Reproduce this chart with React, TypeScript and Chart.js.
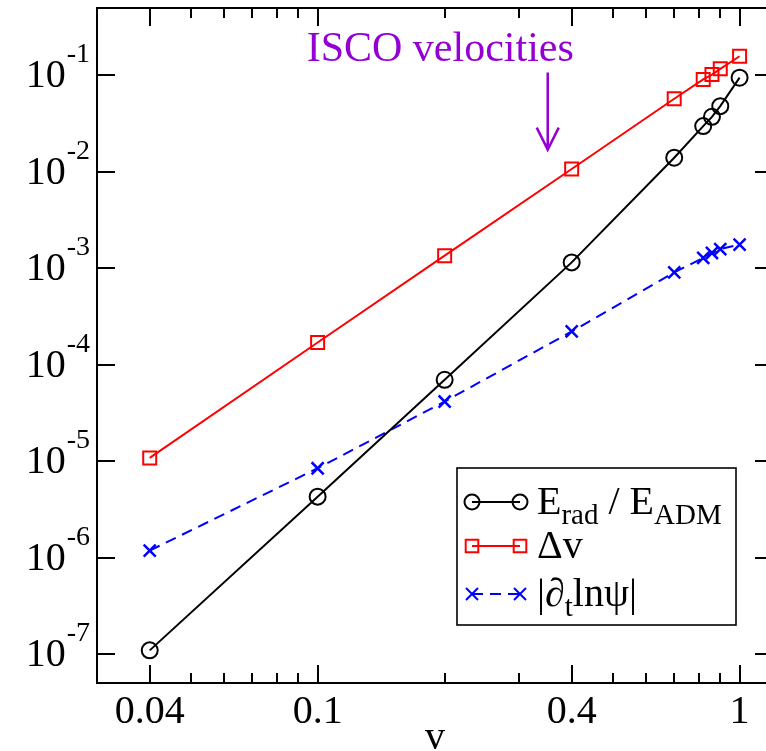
import React, { useEffect, useRef } from 'react';
import { Chart, registerables } from 'chart.js';

Chart.register(...registerables);

// ---------- data ----------
const velocities = [0.04, 0.1, 0.2, 0.4, 0.7, 0.82, 0.86, 0.9, 1.0];
const eRadOverEAdm = [1.09e-7, 4.28e-6, 6.97e-5, 1.15e-3, 1.40e-2, 2.98e-2, 3.72e-2, 4.80e-2, 9.47e-2];
const deltaV = [1.08e-5, 1.70e-4, 1.35e-3, 1.07e-2, 5.73e-2, 9.09e-2, 1.02e-1, 1.17e-1, 1.58e-1];
const dtLnPsi = [1.18e-6, 8.43e-6, 4.15e-5, 2.21e-4, 9.08e-4, 1.28e-3, 1.44e-3, 1.58e-3, 1.76e-3];

const xMajorTicks = [0.04, 0.1, 0.4, 1];
const xMajorLabels = ['0.04', '0.1', '0.4', '1'];
const xMinorTicks = [0.05, 0.06, 0.07, 0.08, 0.09, 0.2, 0.3, 0.5, 0.6, 0.7, 0.8, 0.9];
const yDecadeExponents = [-7, -6, -5, -4, -3, -2, -1];

const xAxisTitle = 'v';
const annotationText = 'ISCO velocities';
const annotationTextPos = [0.0942, 0.141];
const arrowX = 0.351;
const arrowTopVal = 0.107;
const arrowBottomVal = 0.017;

const SERIF = '"Liberation Serif", "Times New Roman", "DejaVu Serif", serif';
const PURPLE = '#9400D3';

type Part = { t: string; s: number; dy?: number };

function drawRich(ctx: CanvasRenderingContext2D, parts: Part[], x: number, y: number) {
  let cx = x;
  ctx.textAlign = 'left';
  ctx.textBaseline = 'alphabetic';
  for (const p of parts) {
    ctx.font = `${p.s}px ${SERIF}`;
    ctx.fillText(p.t, cx, y + (p.dy || 0));
    cx += ctx.measureText(p.t).width;
  }
}

function drawMarker(ctx: CanvasRenderingContext2D, kind: string, x: number, y: number, color: string) {
  ctx.save();
  ctx.strokeStyle = color;
  ctx.lineWidth = 2;
  ctx.beginPath();
  if (kind === 'circle') {
    ctx.arc(x, y, 7.5, 0, Math.PI * 2);
  } else if (kind === 'rect') {
    ctx.rect(x - 6.3, y - 6.3, 12.6, 12.6);
  } else {
    const d = 6;
    ctx.moveTo(x - d, y - d);
    ctx.lineTo(x + d, y + d);
    ctx.moveTo(x - d, y + d);
    ctx.lineTo(x + d, y - d);
  }
  ctx.stroke();
  ctx.restore();
}

const decorPlugin = {
  id: 'decor',
  afterDraw(chart: any) {
    const ctx: CanvasRenderingContext2D = chart.ctx;
    const xs = chart.scales.x;
    const ys = chart.scales.y;
    const { left, right, top, bottom } = chart.chartArea;
    ctx.save();
    ctx.strokeStyle = '#000';
    ctx.fillStyle = '#000';
    ctx.lineWidth = 2;
    // frame
    ctx.strokeRect(left, top, right - left, bottom - top);
    // x ticks (inward, bottom and top)
    const major = 18;
    const minor = 10;
    ctx.beginPath();
    for (const v of xMajorTicks) {
      const px = Math.round(xs.getPixelForValue(v));
      ctx.moveTo(px, bottom);
      ctx.lineTo(px, bottom - major);
      ctx.moveTo(px, top);
      ctx.lineTo(px, top + major);
    }
    for (const v of xMinorTicks) {
      const px = Math.round(xs.getPixelForValue(v));
      ctx.moveTo(px, bottom);
      ctx.lineTo(px, bottom - minor);
      ctx.moveTo(px, top);
      ctx.lineTo(px, top + minor);
    }
    for (const e of yDecadeExponents) {
      const py = Math.round(ys.getPixelForValue(Math.pow(10, e)));
      ctx.moveTo(left, py);
      ctx.lineTo(left + major, py);
      ctx.moveTo(right, py);
      ctx.lineTo(right - major, py);
    }
    ctx.stroke();

    // x tick labels
    ctx.font = `40px ${SERIF}`;
    ctx.textAlign = 'center';
    ctx.textBaseline = 'alphabetic';
    xMajorTicks.forEach((v, i) => {
      ctx.fillText(xMajorLabels[i], xs.getPixelForValue(v), bottom + 40);
    });
    // x axis title
    ctx.fillText(xAxisTitle, (left + right) / 2, bottom + 66);

    // y tick labels 10^e
    for (const e of yDecadeExponents) {
      const py = ys.getPixelForValue(Math.pow(10, e));
      ctx.font = `28px ${SERIF}`;
      const sup = String(e);
      const supW = ctx.measureText(sup).width;
      ctx.font = `40px ${SERIF}`;
      const baseW = ctx.measureText('10').width;
      const endX = left - 7;
      const startX = endX - supW - baseW - 1;
      ctx.textAlign = 'left';
      ctx.fillText('10', startX, py + 12);
      ctx.font = `28px ${SERIF}`;
      ctx.fillText(sup, startX + baseW + 1, py - 13);
    }

    // annotation
    ctx.fillStyle = PURPLE;
    ctx.strokeStyle = PURPLE;
    ctx.font = `42px ${SERIF}`;
    ctx.textAlign = 'left';
    ctx.fillText(annotationText, xs.getPixelForValue(annotationTextPos[0]), ys.getPixelForValue(annotationTextPos[1]));
    const ax = xs.getPixelForValue(arrowX);
    const ay0 = ys.getPixelForValue(arrowTopVal);
    const ay1 = ys.getPixelForValue(arrowBottomVal);
    ctx.lineWidth = 2.5;
    ctx.beginPath();
    ctx.moveTo(ax, ay0);
    ctx.lineTo(ax, ay1);
    ctx.moveTo(ax - 11, ay1 - 22);
    ctx.lineTo(ax, ay1);
    ctx.lineTo(ax + 11, ay1 - 22);
    ctx.stroke();

    // legend
    const lx = 457, ly = 468, lw = 279, lh = 157;
    ctx.fillStyle = '#fff';
    ctx.fillRect(lx, ly, lw, lh);
    ctx.strokeStyle = '#000';
    ctx.lineWidth = 1.6;
    ctx.strokeRect(lx, ly, lw, lh);
    const rows = [
      { y: 502, color: '#000', kind: 'circle', dash: [] as number[], parts: [
        { t: 'E', s: 40 }, { t: 'rad', s: 29, dy: 10 }, { t: ' / ', s: 40 }, { t: 'E', s: 40 }, { t: 'ADM', s: 29, dy: 10 },
      ] },
      { y: 546, color: '#f00', kind: 'rect', dash: [] as number[], parts: [{ t: '\u0394v', s: 40 }] },
      { y: 594, color: '#00f', kind: 'cross', dash: [11, 7], parts: [
        { t: '|\u2202', s: 40 }, { t: 't', s: 29, dy: 10 }, { t: 'ln\u03C8|', s: 40 },
      ] },
    ];
    for (const r of rows) {
      ctx.save();
      ctx.strokeStyle = r.color;
      ctx.lineWidth = 2;
      ctx.setLineDash(r.dash);
      ctx.beginPath();
      ctx.moveTo(472, r.y);
      ctx.lineTo(520, r.y);
      ctx.stroke();
      ctx.restore();
      drawMarker(ctx, r.kind, 472, r.y, r.color);
      drawMarker(ctx, r.kind, 520, r.y, r.color);
      ctx.fillStyle = '#000';
      drawRich(ctx, r.parts, 537, r.y + 12);
    }
    ctx.restore();
  },
};

export default function App() {
  const ref = useRef<HTMLCanvasElement | null>(null);
  useEffect(() => {
    const canvas = ref.current;
    if (!canvas) return;
    const mk = (vals: number[]) => velocities.map((v, i) => ({ x: v, y: vals[i] }));
    const chart = new Chart(canvas, {
      type: 'line',
      data: {
        datasets: [
          {
            label: 'E_rad / E_ADM',
            data: mk(eRadOverEAdm),
            borderColor: '#000',
            borderWidth: 2,
            pointStyle: 'circle',
            pointRadius: 8,
            pointBorderWidth: 2,
            pointBorderColor: '#000',
            pointBackgroundColor: 'rgba(0,0,0,0)',
            tension: 0,
          },
          {
            label: 'Δv',
            data: mk(deltaV),
            borderColor: '#f00',
            borderWidth: 2,
            pointStyle: 'rect',
            pointRadius: 9.2,
            pointBorderWidth: 2,
            pointBorderColor: '#f00',
            pointBackgroundColor: 'rgba(0,0,0,0)',
            tension: 0,
          },
          {
            label: '|∂t lnψ|',
            data: mk(dtLnPsi),
            borderColor: '#00f',
            borderWidth: 2,
            borderDash: [11, 7],
            pointStyle: 'crossRot',
            pointRadius: 8.5,
            pointBorderWidth: 2.5,
            pointBorderColor: '#00f',
            pointBackgroundColor: 'rgba(0,0,0,0)',
            tension: 0,
          },
        ],
      },
      options: {
        responsive: false,
        animation: false,
        devicePixelRatio: 1,
        layout: { padding: { left: 0, top: 8, right: 27, bottom: 0 }, autoPadding: false },
        plugins: { legend: { display: false }, tooltip: { enabled: false } },
        events: [],
        scales: {
          x: {
            type: 'logarithmic',
            min: 0.03,
            max: 1.2,
            grid: { display: false },
            border: { display: false },
            ticks: { display: false },
            afterFit: (s: any) => { s.height = 68; },
          },
          y: {
            type: 'logarithmic',
            min: 5e-8,
            max: 0.5,
            grid: { display: false },
            border: { display: false },
            ticks: { display: false },
            afterFit: (s: any) => { s.width = 97; },
          },
        },
      },
      plugins: [decorPlugin],
    } as any);
    return () => chart.destroy();
  }, []);
  return (
    <div style={{ position: 'fixed', left: 0, top: 0, width: 766, height: 751, overflow: 'hidden', background: '#fff' }}>
      <canvas ref={ref} width={800} height={751} style={{ display: 'block', width: 800, height: 751 }} />
    </div>
  );
}
